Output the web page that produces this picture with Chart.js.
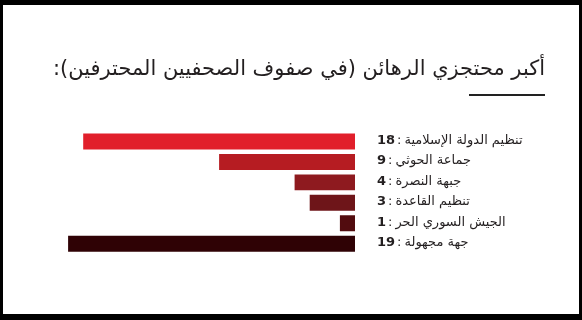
<!DOCTYPE html>
<html lang="ar">
<head>
<meta charset="utf-8">
<script src="https://cdn.jsdelivr.net/npm/chart.js@4/dist/chart.umd.min.js"></script>
<style>
  html, body { margin: 0; padding: 0; background: #000; }
  #frame { position: absolute; left: 3px; top: 5px; width: 576px; height: 309px; background: #fff; }
  canvas { direction: rtl; }
</style>
</head>
<body>
<div id="frame"><canvas id="hostagesChart" width="576" height="309"></canvas></div>
<script>
// chart data
const titleText = 'أكبر محتجزي الرهائن (في صفوف الصحفيين المحترفين):';
const groups = ['تنظيم الدولة الإسلامية', 'جماعة الحوثي', 'جبهة النصرة', 'تنظيم القاعدة', 'الجيش السوري الحر', 'جهة مجهولة'];
const hostages = [18, 9, 4, 3, 1, 19];
const barColors = ['#e11f2b', '#b61c22', '#8e1a1f', '#6e1519', '#520c0f', '#2f0205'];

const textColor = '#231f20';
const fontFamily = '"DejaVu Sans", sans-serif';

// labels on the right: bold number, colon, group name (rtl)
const groupLabels = {
    id: 'groupLabels',
    afterDatasetsDraw(chart) {
        const ctx = chart.ctx;
        const yScale = chart.scales.y;
        const x0 = yScale.left + 22;
        ctx.save();
        ctx.fillStyle = textColor;
        ctx.textBaseline = 'middle';
        ctx.textAlign = 'left';
        hostages.forEach((v, i) => {
            const y = yScale.getPixelForValue(i) - 1;
            ctx.direction = 'ltr';
            ctx.font = 'bold 13px ' + fontFamily;
            const num = String(v);
            ctx.fillText(num, x0, y);
            let x = x0 + ctx.measureText(num).width + 2;
            ctx.font = '13px ' + fontFamily;
            ctx.fillText(':', x, y);
            x += ctx.measureText(':').width + 3;
            ctx.direction = 'rtl';
            ctx.fillText(groups[i], x, y);
        });
        ctx.restore();
    }
};

// short rule under the title
const titleRule = {
    id: 'titleRule',
    afterDraw(chart) {
        const tb = chart.titleBlock;
        if (!tb) return;
        const ctx = chart.ctx;
        const right = tb.left + tb.width;
        ctx.save();
        ctx.strokeStyle = '#222';
        ctx.lineWidth = 2;
        ctx.beginPath();
        ctx.moveTo(right - 76, 90);
        ctx.lineTo(right, 90);
        ctx.stroke();
        ctx.restore();
    }
};

const ctx = document.getElementById('hostagesChart').getContext('2d');
new Chart(ctx, {
    type: 'bar',
    data: {
        labels: groups,
        datasets: [{
            data: hostages,
            backgroundColor: barColors,
            borderWidth: 0,
            barPercentage: 0.78,
            categoryPercentage: 1
        }]
    },
    options: {
        indexAxis: 'y',
        responsive: false,
        animation: false,
        layout: {
            padding: { top: 10, bottom: 60, left: 50, right: 34 }
        },
        scales: {
            x: {
                display: false,
                reverse: true,
                min: 0,
                max: 20
            },
            y: {
                position: 'right',
                grid: { display: false },
                border: { display: false },
                ticks: { display: false },
                afterFit(scale) { scale.width = 190; }
            }
        },
        plugins: {
            legend: { display: false },
            tooltip: { enabled: false },
            title: {
                display: true,
                text: titleText,
                align: 'end',
                color: textColor,
                font: { family: fontFamily, size: 21, weight: 'normal', lineHeight: 1.2 },
                padding: { top: 42, bottom: 49 }
            }
        }
    },
    plugins: [groupLabels, titleRule]
});
</script>
</body>
</html>
